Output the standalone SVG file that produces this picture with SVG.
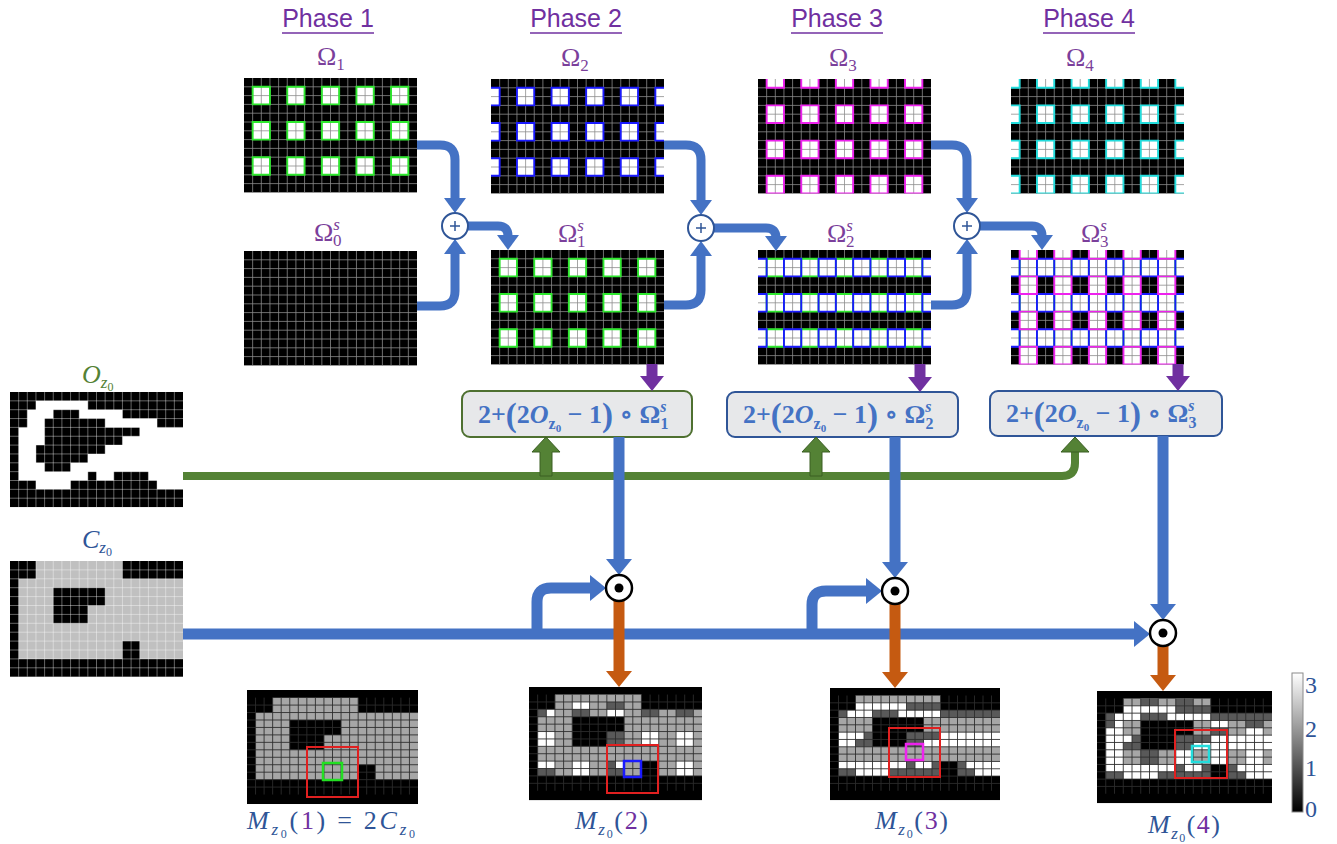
<svg xmlns="http://www.w3.org/2000/svg" xmlns:xlink="http://www.w3.org/1999/xlink" width="1337" height="844" viewBox="0 0 1337 844">
<defs>
<style>
text{font-family:"Liberation Serif","DejaVu Serif",serif;}
.ph{font-family:"Liberation Sans",Arial,sans-serif;font-size:25px;fill:#7030a0;}
.om{font-size:26px;fill:#7b3f9b;}
.fx{font-size:26px;font-weight:bold;fill:#4472c4;}
.ml{font-size:26px;fill:#2f5597;}
.cbl{font-size:24px;fill:#2f5597;}
.gl{fill:none;stroke:#8c8c8c;stroke-width:0.09;}
.glo{fill:none;stroke:#fff;stroke-opacity:0.45;stroke-width:0.1;}
.glm{fill:none;stroke:#2c2c2c;stroke-width:0.11;}
.ob{fill:none;stroke-width:0.22;}
.box{fill:#e7e8ea;stroke-width:2;}
.pc{fill:#fff;stroke:#2f5597;stroke-width:2;}
.dc{fill:#fff;stroke:#000;stroke-width:2.5;}
.ul{stroke:#7030a0;stroke-width:1.6;}
.ga{fill:#548235;stroke:#3b5e23;stroke-width:1;}
</style>
<path id="grid" d="M1 0V13M2 0V13M3 0V13M4 0V13M5 0V13M6 0V13M7 0V13M8 0V13M9 0V13M10 0V13M11 0V13M12 0V13M13 0V13M14 0V13M15 0V13M16 0V13M17 0V13M18 0V13M19 0V13M0 1H20M0 2H20M0 3H20M0 4H20M0 5H20M0 6H20M0 7H20M0 8H20M0 9H20M0 10H20M0 11H20M0 12H20"/>
<path id="b1" d="M1 1h2v2h-2zM5 1h2v2h-2zM9 1h2v2h-2zM13 1h2v2h-2zM17 1h2v2h-2zM1 5h2v2h-2zM5 5h2v2h-2zM9 5h2v2h-2zM13 5h2v2h-2zM17 5h2v2h-2zM1 9h2v2h-2zM5 9h2v2h-2zM9 9h2v2h-2zM13 9h2v2h-2zM17 9h2v2h-2z"/>
<path id="b2" d="M-1 1h2v2h-2zM3 1h2v2h-2zM7 1h2v2h-2zM11 1h2v2h-2zM15 1h2v2h-2zM19 1h2v2h-2zM-1 5h2v2h-2zM3 5h2v2h-2zM7 5h2v2h-2zM11 5h2v2h-2zM15 5h2v2h-2zM19 5h2v2h-2zM-1 9h2v2h-2zM3 9h2v2h-2zM7 9h2v2h-2zM11 9h2v2h-2zM15 9h2v2h-2zM19 9h2v2h-2z"/>
<path id="b3" d="M1 -1h2v2h-2zM5 -1h2v2h-2zM9 -1h2v2h-2zM13 -1h2v2h-2zM17 -1h2v2h-2zM1 3h2v2h-2zM5 3h2v2h-2zM9 3h2v2h-2zM13 3h2v2h-2zM17 3h2v2h-2zM1 7h2v2h-2zM5 7h2v2h-2zM9 7h2v2h-2zM13 7h2v2h-2zM17 7h2v2h-2zM1 11h2v2h-2zM5 11h2v2h-2zM9 11h2v2h-2zM13 11h2v2h-2zM17 11h2v2h-2z"/>
<path id="b4" d="M-1 -1h2v2h-2zM3 -1h2v2h-2zM7 -1h2v2h-2zM11 -1h2v2h-2zM15 -1h2v2h-2zM19 -1h2v2h-2zM-1 3h2v2h-2zM3 3h2v2h-2zM7 3h2v2h-2zM11 3h2v2h-2zM15 3h2v2h-2zM19 3h2v2h-2zM-1 7h2v2h-2zM3 7h2v2h-2zM7 7h2v2h-2zM11 7h2v2h-2zM15 7h2v2h-2zM19 7h2v2h-2zM-1 11h2v2h-2zM3 11h2v2h-2zM7 11h2v2h-2zM11 11h2v2h-2zM15 11h2v2h-2zM19 11h2v2h-2z"/>
<path id="cm" d="M3 0h10v2h-10zM1 2h19v1h-19zM1 3h4v4h-4zM11 3h9v2h-9zM9 5h11v2h-11zM1 7h19v2h-19zM1 9h12v2h-12zM15 9h5v2h-5z"/>
<path id="w3" d="M3 1h6v1h-6zM2 2h3v1h-3zM8 2h5v1h-5zM1 5h3v1h-3zM13 5h7v1h-7zM1 6h2v1h-2zM11 6h9v1h-9zM1 9h8v1h-8zM10 9h2v1h-2zM16 9h4v1h-4zM3 10h4v1h-4zM17 10h3v1h-3z"/>
<path id="d3" d="M9 1h4v1h-4zM1 2h1v1h-1zM5 2h3v1h-3zM13 2h7v1h-7zM4 5h1v1h-1zM9 5h4v1h-4zM3 6h2v1h-2zM9 6h2v1h-2zM9 9h1v1h-1zM12 9h1v1h-1zM15 9h1v1h-1zM1 10h2v1h-2zM7 10h6v1h-6zM15 10h2v1h-2z"/>
<clipPath id="cg"><rect x="0" y="0" width="20" height="13"/></clipPath>
<linearGradient id="cbg" x1="0" y1="0" x2="0" y2="1"><stop offset="0" stop-color="#fff"/><stop offset="1" stop-color="#000"/></linearGradient>
<marker id="mb" viewBox="0 0 15 22" refX="2" refY="11" markerWidth="15" markerHeight="22" markerUnits="userSpaceOnUse" orient="auto"><path d="M0 0L15 11L0 22z" fill="#4472c4" stroke="none"/></marker>
<marker id="mb2" viewBox="0 0 16 26" refX="3" refY="13" markerWidth="16" markerHeight="26" markerUnits="userSpaceOnUse" orient="auto"><path d="M0 0L16 13L0 26z" fill="#4472c4" stroke="none"/></marker>
<marker id="mp" viewBox="0 0 15 24" refX="2" refY="12" markerWidth="15" markerHeight="24" markerUnits="userSpaceOnUse" orient="auto"><path d="M0 0L15 12L0 24z" fill="#7030a0" stroke="none"/></marker>
<marker id="mo" viewBox="0 0 16 26" refX="3" refY="13" markerWidth="16" markerHeight="26" markerUnits="userSpaceOnUse" orient="auto"><path d="M0 0L16 13L0 26z" fill="#c55a11" stroke="none"/></marker>
</defs>
<rect width="1337" height="844" fill="#fff"/>

<g id="phase-labels">
<text x="328" y="27" text-anchor="middle" class="ph">Phase 1</text><path class="ul" d="M282 33H374"/>
<text x="576" y="27" text-anchor="middle" class="ph">Phase 2</text><path class="ul" d="M530 33H622"/>
<text x="837" y="27" text-anchor="middle" class="ph">Phase 3</text><path class="ul" d="M791 33H883"/>
<text x="1089" y="27" text-anchor="middle" class="ph">Phase 4</text><path class="ul" d="M1043 33H1135"/>
</g>

<g id="omega1">
<text x="317" y="65" class="om">Ω<tspan font-size="17" dy="5">1</tspan></text>
<g transform="translate(244,78) scale(8.65,8.8)"><rect width="20" height="13" fill="#000"/><g clip-path="url(#cg)">
<use href="#b1" fill="#fff"/><use href="#grid" class="gl"/><use href="#b1" class="ob" stroke="#2ee82e"/></g></g>
</g>
<g id="omega0s">
<text x="314" y="241" class="om">Ω<tspan font-size="17" font-style="italic" dy="-11">s</tspan><tspan font-size="17" dx="-7" dy="16">0</tspan></text>
<g transform="translate(244,251) scale(8.65,8.8)"><rect width="20" height="13" fill="#000"/><use href="#grid" class="gl"/></g>
</g>
<g id="omega2">
<text x="561" y="66" class="om">Ω<tspan font-size="17" dy="5">2</tspan></text>
<g transform="translate(491,79) scale(8.65,8.8)"><rect width="20" height="13" fill="#000"/><g clip-path="url(#cg)">
<use href="#b2" fill="#fff"/><use href="#grid" class="gl"/><use href="#b2" class="ob" stroke="#1a1aff"/></g></g>
</g>
<g id="omega1s">
<text x="558" y="242" class="om">Ω<tspan font-size="17" font-style="italic" dy="-11">s</tspan><tspan font-size="17" dx="-7" dy="16">1</tspan></text>
<g transform="translate(491,250) scale(8.65,8.8)"><rect width="20" height="13" fill="#000"/><g clip-path="url(#cg)">
<use href="#b1" fill="#fff"/><use href="#grid" class="gl"/><use href="#b1" class="ob" stroke="#2ee82e"/></g></g>
</g>
<g id="omega3">
<text x="829" y="66" class="om">Ω<tspan font-size="17" dy="5">3</tspan></text>
<g transform="translate(758,79) scale(8.65,8.8)"><rect width="20" height="13" fill="#000"/><g clip-path="url(#cg)">
<use href="#b3" fill="#fff"/><use href="#grid" class="gl"/><use href="#b3" class="ob" stroke="#ee22ee"/></g></g>
</g>
<g id="omega2s">
<text x="827" y="242" class="om">Ω<tspan font-size="17" font-style="italic" dy="-11">s</tspan><tspan font-size="17" dx="-7" dy="16">2</tspan></text>
<g transform="translate(758,250) scale(8.65,8.8)"><rect width="20" height="13" fill="#000"/><g clip-path="url(#cg)">
<use href="#b1" fill="#fff"/><use href="#b2" fill="#fff"/><use href="#grid" class="gl"/><use href="#b1" class="ob" stroke="#2ee82e"/><use href="#b2" class="ob" stroke="#1a1aff"/></g></g>
</g>
<g id="omega4">
<text x="1066" y="66" class="om">Ω<tspan font-size="17" dy="5">4</tspan></text>
<g transform="translate(1011,79) scale(8.65,8.8)"><rect width="20" height="13" fill="#000"/><g clip-path="url(#cg)">
<use href="#b4" fill="#fff"/><use href="#grid" class="gl"/><use href="#b4" class="ob" stroke="#22dddd"/></g></g>
</g>
<g id="omega3s">
<text x="1081" y="242" class="om">Ω<tspan font-size="17" font-style="italic" dy="-11">s</tspan><tspan font-size="17" dx="-7" dy="16">3</tspan></text>
<g transform="translate(1011,250) scale(8.65,8.8)"><rect width="20" height="13" fill="#000"/><g clip-path="url(#cg)">
<use href="#b1" fill="#fff"/><use href="#b2" fill="#fff"/><use href="#b3" fill="#fff"/><use href="#grid" class="gl"/><use href="#b1" class="ob" stroke="#2ee82e"/><use href="#b2" class="ob" stroke="#1a1aff"/><use href="#b3" class="ob" stroke="#ee22ee"/></g></g>
</g>

<g id="oz0">
<text x="82" y="383" class="ml" style="fill:#548235"><tspan font-style="italic">O</tspan><tspan font-size="17" font-style="italic" dy="5">z</tspan><tspan font-size="12" dy="3">0</tspan></text>
<g transform="translate(10,392) scale(8.65,8.85)"><rect width="20" height="13" fill="#000"/>
<path fill="#fff" d="M3 1h6v1h-6zM2 2h3v1h-3zM8 2h5v1h-5zM2 3h2v1h-2zM11 3h6v1h-6zM1 4h3v1h-3zM15 4h5v1h-5zM1 5h3v1h-3zM13 5h7v1h-7zM1 6h2v1h-2zM11 6h9v1h-9zM1 7h2v1h-2zM9 7h11v1h-11zM1 8h3v1h-3zM7 8h13v1h-13zM1 9h8v1h-8zM10 9h2v1h-2zM16 9h4v1h-4zM3 10h4v1h-4zM17 10h3v1h-3z"/>
<use href="#grid" class="glo"/></g>
</g>
<g id="cz0">
<text x="82" y="548" class="ml"><tspan font-style="italic">C</tspan><tspan font-size="17" font-style="italic" dy="5">z</tspan><tspan font-size="12" dy="3">0</tspan></text>
<g transform="translate(10,561) scale(8.65,8.9)"><rect width="20" height="13" fill="#000"/>
<use href="#cm" fill="#c0c0c0"/><use href="#grid" class="glo"/></g>
</g>

<g id="box1"><rect x="462" y="391" width="230" height="46" rx="8" class="box" stroke="#4e7030"/>
<text x="478" y="423" class="fx">2+<tspan font-size="33" dy="3">(</tspan><tspan dy="-3">2</tspan><tspan font-style="italic">O</tspan><tspan font-size="16" dy="6">z</tspan><tspan font-size="11" dy="3">0</tspan><tspan dy="-9"> − 1</tspan><tspan font-size="33" dy="3">)</tspan><tspan dy="-3"> ∘ Ω</tspan><tspan font-size="16" font-style="italic" dy="-11">s</tspan><tspan font-size="16" dx="-6" dy="17">1</tspan></text></g>
<g id="box2"><rect x="727" y="392" width="231" height="45" rx="8" class="box" stroke="#2f5597"/>
<text x="743" y="423" class="fx">2+<tspan font-size="33" dy="3">(</tspan><tspan dy="-3">2</tspan><tspan font-style="italic">O</tspan><tspan font-size="16" dy="6">z</tspan><tspan font-size="11" dy="3">0</tspan><tspan dy="-9"> − 1</tspan><tspan font-size="33" dy="3">)</tspan><tspan dy="-3"> ∘ Ω</tspan><tspan font-size="16" font-style="italic" dy="-11">s</tspan><tspan font-size="16" dx="-6" dy="17">2</tspan></text></g>
<g id="box3"><rect x="990" y="391" width="232" height="45" rx="8" class="box" stroke="#2f5597"/>
<text x="1006" y="422" class="fx">2+<tspan font-size="33" dy="3">(</tspan><tspan dy="-3">2</tspan><tspan font-style="italic">O</tspan><tspan font-size="16" dy="6">z</tspan><tspan font-size="11" dy="3">0</tspan><tspan dy="-9"> − 1</tspan><tspan font-size="33" dy="3">)</tspan><tspan dy="-3"> ∘ Ω</tspan><tspan font-size="16" font-style="italic" dy="-11">s</tspan><tspan font-size="16" dx="-6" dy="17">3</tspan></text></g>

<g id="m1">
<g transform="translate(247,690) scale(8.55,8.77)"><rect width="20" height="13" fill="#000"/><g transform="translate(0,0.87) scale(1,0.85)">
<use href="#cm" fill="#a6a6a6"/><use href="#grid" class="glm"/></g></g>
<rect x="307" y="747" width="51" height="50" fill="none" stroke="#e02020" stroke-width="2"/>
<rect x="323" y="763" width="19" height="17" fill="none" stroke="#22e022" stroke-width="2.5"/>
<text x="247" y="829" class="ml" textLength="168" lengthAdjust="spacing"><tspan font-style="italic">M</tspan><tspan font-size="17" font-style="italic" dy="6">z</tspan><tspan font-size="12" dy="3">0</tspan><tspan dy="-9">(</tspan><tspan style="fill:#7030a0">1</tspan><tspan>) = 2</tspan><tspan font-style="italic">C</tspan><tspan font-size="17" font-style="italic" dy="6">z</tspan><tspan font-size="12" dy="3">0</tspan></text>
</g>
<g id="m2">
<g transform="translate(529,687) scale(8.65,8.7)"><rect width="20" height="13" fill="#000"/><g transform="translate(0,0.87) scale(1,0.85)">
<use href="#cm" fill="#a6a6a6"/>
<path fill="#fff" d="M5 1h2v1h-2zM2 2h1v1h-1zM9 2h2v1h-2zM1 5h2v2h-2zM13 5h2v2h-2zM17 5h2v2h-2zM1 9h2v1h-2zM5 9h2v2h-2zM10 9h1v1h-1zM17 9h2v2h-2z"/>
<path fill="#595959" d="M9 1h2v1h-2zM1 2h1v1h-1zM5 2h2v1h-2zM13 2h2v1h-2zM17 2h2v1h-2zM9 5h2v2h-2zM9 9h1v1h-1zM1 10h2v1h-2zM9 10h2v1h-2z"/>
<use href="#grid" class="glm"/></g></g>
<rect x="607" y="745" width="51" height="48" fill="none" stroke="#e02020" stroke-width="2"/>
<rect x="624" y="761" width="17" height="16" fill="none" stroke="#1a1aff" stroke-width="2.5"/>
<text x="575" y="829" class="ml" textLength="73" lengthAdjust="spacing"><tspan font-style="italic">M</tspan><tspan font-size="17" font-style="italic" dy="6">z</tspan><tspan font-size="12" dy="3">0</tspan><tspan dy="-9">(</tspan><tspan style="fill:#7030a0">2</tspan><tspan>)</tspan></text>
</g>
<g id="m3">
<g transform="translate(830,688) scale(8.5,8.62)"><rect width="20" height="13" fill="#000"/><g transform="translate(0,0.87) scale(1,0.85)">
<use href="#cm" fill="#a6a6a6"/><use href="#w3" fill="#fff"/><use href="#d3" fill="#595959"/>
<use href="#grid" class="glm"/></g></g>
<rect x="889" y="728" width="51" height="49" fill="none" stroke="#e02020" stroke-width="2"/>
<rect x="906" y="744" width="17" height="16" fill="none" stroke="#ee22ee" stroke-width="2.5"/>
<text x="875" y="829" class="ml" textLength="73" lengthAdjust="spacing"><tspan font-style="italic">M</tspan><tspan font-size="17" font-style="italic" dy="6">z</tspan><tspan font-size="12" dy="3">0</tspan><tspan dy="-9">(</tspan><tspan style="fill:#7030a0">3</tspan><tspan>)</tspan></text>
</g>
<g id="m4">
<g transform="translate(1097,691) scale(8.75,8.62)"><rect width="20" height="13" fill="#000"/><g transform="translate(0,0.87) scale(1,0.85)">
<use href="#cm" fill="#a6a6a6"/><use href="#w3" fill="#fff"/><use href="#d3" fill="#595959"/>
<path fill="#fff" d="M2 3h1v1h-1zM13 3h2v1h-2zM1 4h2v1h-2zM17 4h2v1h-2zM1 7h2v2h-2zM9 7h2v2h-2zM13 7h2v2h-2zM17 7h2v2h-2z"/>
<path fill="#595959" d="M5 0h2v1h-2zM9 0h2v1h-2zM1 3h1v1h-1zM17 3h2v1h-2zM13 4h2v1h-2zM5 7h2v2h-2z"/>
<use href="#grid" class="glm"/></g></g>
<rect x="1175" y="730" width="52" height="48" fill="none" stroke="#e02020" stroke-width="2"/>
<rect x="1192" y="746" width="17" height="16" fill="none" stroke="#22dddd" stroke-width="2.5"/>
<text x="1148" y="833" class="ml" textLength="72" lengthAdjust="spacing"><tspan font-style="italic">M</tspan><tspan font-size="17" font-style="italic" dy="6">z</tspan><tspan font-size="12" dy="3">0</tspan><tspan dy="-9">(</tspan><tspan style="fill:#7030a0">4</tspan><tspan>)</tspan></text>
</g>

<g id="colorbar">
<rect x="1292" y="673" width="11" height="139" fill="url(#cbg)" stroke="#8a8a8a" stroke-width="1"/>
<text x="1305" y="693" class="cbl">3</text>
<text x="1305" y="737" class="cbl">2</text>
<text x="1305" y="776" class="cbl">1</text>
<text x="1305" y="817" class="cbl">0</text>
</g>

<g id="connectors" fill="none">
<g stroke="#4472c4" stroke-width="9" marker-end="url(#mb)">
<path d="M417 145H440Q455 145 455 160V200"/>
<path d="M417 306H440Q455 306 455 291V252"/>
<path d="M468 226H498Q508 226 508 236V237"/>
<path d="M664 145H686Q701 145 701 160V202"/>
<path d="M664 305H686Q701 305 701 290V254"/>
<path d="M714 228H766Q776 228 776 238"/>
<path d="M931 145H952Q967 145 967 160V200"/>
<path d="M931 305H952Q967 305 967 290V252"/>
<path d="M980 226H1032Q1042 226 1042 236V237"/>
</g>
<g stroke="#7030a0" stroke-width="11" marker-end="url(#mp)">
<path d="M652 364V378"/>
<path d="M920 364V379"/>
<path d="M1178 364V378"/>
</g>
<path d="M183 476H1062Q1075 476 1075 463V451" stroke="#548235" stroke-width="8"/>
<polygon class="ga" points="540,476 540,452 532,452 546,437 560,452 552,452 552,476"/>
<polygon class="ga" points="810,476 810,452 802,452 816,437 830,452 822,452 822,476"/>
<polygon class="ga" points="1061,452 1075,437 1089,452"/>
<g stroke="#4472c4" stroke-width="11" marker-end="url(#mb2)">
<path d="M619 437V562"/>
<path d="M895 437V565"/>
<path d="M1163 436V607"/>
<path d="M183 634H1137"/>
<path d="M537 634V602Q537 588 551 588H593"/>
<path d="M812 634V605Q812 591 826 591H869"/>
</g>
<g stroke="#c55a11" stroke-width="11" marker-end="url(#mo)">
<path d="M619 601V674"/>
<path d="M895 604V675"/>
<path d="M1163 646V678"/>
</g>
</g>

<g id="plus1"><circle cx="455" cy="226" r="13" class="pc"/><path d="M450 226H460M455 221V231" stroke="#2f5597" stroke-width="1.5"/></g>
<g id="plus2"><circle cx="701" cy="228" r="13" class="pc"/><path d="M696 228H706M701 223V233" stroke="#2f5597" stroke-width="1.5"/></g>
<g id="plus3"><circle cx="967" cy="226" r="13" class="pc"/><path d="M962 226H972M967 221V231" stroke="#2f5597" stroke-width="1.5"/></g>
<g id="dot1"><circle cx="619" cy="588" r="13" class="dc"/><circle cx="619" cy="588" r="4.5" fill="#000"/></g>
<g id="dot2"><circle cx="895" cy="591" r="13" class="dc"/><circle cx="895" cy="591" r="4.5" fill="#000"/></g>
<g id="dot3"><circle cx="1163" cy="633" r="13" class="dc"/><circle cx="1163" cy="633" r="4.5" fill="#000"/></g>
</svg>
